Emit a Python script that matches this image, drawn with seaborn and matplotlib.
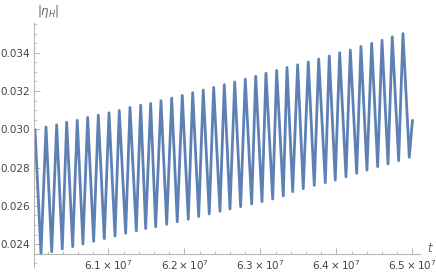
import numpy as np
import pandas as pd
import matplotlib
matplotlib.use("Agg")
import matplotlib.pyplot as plt
import seaborn as sns
from matplotlib.ticker import MultipleLocator, FuncFormatter

# tepe noktalari (t, |eta_H|), t birimi 1e7
tepe_t = [6.0033, 6.0178, 6.0318, 6.0450, 6.0589, 6.0726, 6.0866, 6.1007, 6.1142, 6.1283,
          6.1424, 6.1555, 6.1691, 6.1832, 6.1971, 6.2108, 6.2247, 6.2384, 6.2524, 6.2661,
          6.2800, 6.2937, 6.3072, 6.3213, 6.3349, 6.3489, 6.3629, 6.3766, 6.3905, 6.4042,
          6.4182, 6.4322, 6.4463, 6.4599, 6.4734, 6.4875]
tepe_y = [0.02998, 0.03012, 0.03023, 0.03037, 0.03047, 0.03062, 0.03074, 0.03086, 0.03098, 0.03114,
          0.03126, 0.03135, 0.03149, 0.03163, 0.03177, 0.03191, 0.03205, 0.03219, 0.03233, 0.03247,
          0.03262, 0.03277, 0.03293, 0.03307, 0.03323, 0.03337, 0.03351, 0.03367, 0.03383, 0.03400,
          0.03414, 0.03432, 0.03449, 0.03465, 0.03483, 0.03500]

# dip noktalari
dip_t = [6.0112, 6.0253, 6.0392, 6.0529, 6.0664, 6.0805, 6.0945, 6.1086, 6.1226, 6.1366,
         6.1489, 6.1621, 6.1766, 6.1905, 6.2050, 6.2187, 6.2326, 6.2467, 6.2599, 6.2739,
         6.2884, 6.3020, 6.3161, 6.3300, 6.3424, 6.3563, 6.3708, 6.3853, 6.3984, 6.4125,
         6.4266, 6.4401, 6.4542, 6.4678, 6.4818, 6.4958]
dip_y = [0.02349, 0.02361, 0.02375, 0.02387, 0.02401, 0.02415, 0.02429, 0.02443, 0.02457, 0.02470,
         0.02482, 0.02491, 0.02504, 0.02517, 0.02530, 0.02544, 0.02558, 0.02572, 0.02584, 0.02596,
         0.02610, 0.02622, 0.02636, 0.02652, 0.02674, 0.02690, 0.02707, 0.02721, 0.02735, 0.02752,
         0.02770, 0.02787, 0.02805, 0.02819, 0.02836, 0.02854]

# egrinin baslangic ve bitis noktalari
uc_t = [6.0020, 6.5000]
uc_y = [0.02970, 0.03047]

x_ticks = [6.1, 6.2, 6.3, 6.4, 6.5]
y_ticks = [0.024, 0.026, 0.028, 0.030, 0.032, 0.034]

df = pd.concat([
    pd.DataFrame({'t': tepe_t, 'eta': tepe_y}),
    pd.DataFrame({'t': dip_t, 'eta': dip_y}),
    pd.DataFrame({'t': uc_t, 'eta': uc_y}),
]).sort_values('t')
df['t'] = df['t'] * 1e7

sns.set_style('white')
plt.rcParams['font.family'] = ['DejaVu Sans']
plt.rcParams['mathtext.default'] = 'regular'

W, H = 436, 276
fig = plt.figure(figsize=(W / 100, H / 100), dpi=100)
# eksen kutusu piksel olarak: sol 34, sag 420, ust 23, alt 267
ax = fig.add_axes([34 / W, 1 - 267 / H, (420 - 34) / W, (267 - 23) / H])

sns.lineplot(data=df, x='t', y='eta', ax=ax, color='#5E81B5', linewidth=2.0,
             estimator=None, sort=True)
for ln in ax.lines:
    ln.set_solid_joinstyle('round')
    ln.set_solid_capstyle('round')

ax.set_xlim(6.002e7, 6.5099e7)
ax.set_ylim(0.02281, 0.03555)

eksen_renk = '#B5B5B5'
ax.spines['top'].set_visible(False)
ax.spines['right'].set_visible(False)
ax.spines['bottom'].set_position(('data', 0.02349))
ax.spines['bottom'].set_color(eksen_renk)
ax.spines['left'].set_color(eksen_renk)
ax.spines['bottom'].set_linewidth(0.8)
ax.spines['left'].set_linewidth(0.8)

ax.set_xticks([v * 1e7 for v in x_ticks])
ax.xaxis.set_major_formatter(FuncFormatter(lambda v, p: r'$%.1f\times10^{7}$' % (v / 1e7)))
ax.xaxis.set_minor_locator(MultipleLocator(2e5))
ax.set_yticks(y_ticks)
ax.yaxis.set_major_formatter(FuncFormatter(lambda v, p: '%.3f' % v))
ax.yaxis.set_minor_locator(MultipleLocator(0.0005))

ax.tick_params(axis='both', which='major', direction='in', length=4, width=0.7,
               color=eksen_renk, labelsize=7.5, labelcolor='#444444', pad=3,
               bottom=True, left=True)
ax.tick_params(axis='both', which='minor', direction='in', length=2.2, width=0.6,
               color=eksen_renk, bottom=True, left=True)

ax.set_xlabel('')
ax.set_ylabel('')
ax.grid(False)

# eksen etiketleri (Mathematica tarzi: eksen uclarinda)
fig.text(37 / W, 1 - 11 / H, r'$|\mathit{\eta_H}|$', fontsize=8.5, color='#666666',
         ha='left', va='center', math_fontfamily='dejavusans')
fig.text(430 / W, 1 - 248 / H, r'$\mathit{t}$', fontsize=8.5, color='#666666',
         ha='center', va='center', math_fontfamily='dejavusans')

plt.savefig('out.png', dpi=100)
